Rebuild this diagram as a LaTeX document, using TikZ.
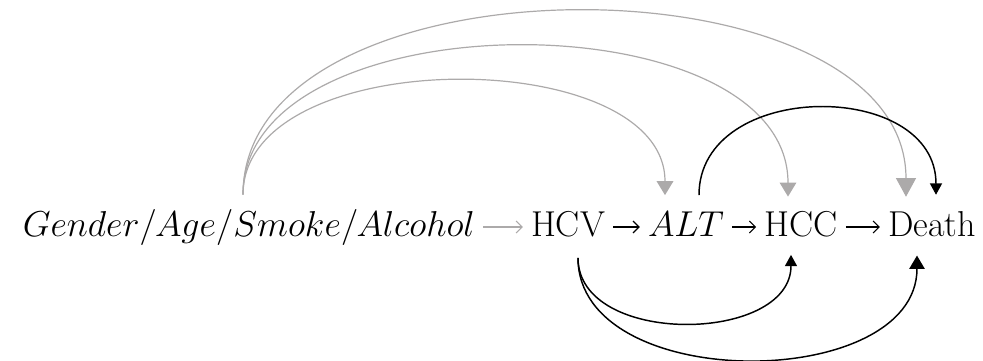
\documentclass[tikz,border=0pt]{standalone}
\usepackage{fix-cm}
\usepackage{amsmath}
\usepackage{tikz}
\usetikzlibrary{arrows.meta,calc,positioning}
\definecolor{arcgray}{RGB}{172,170,170}

\begin{document}
\begin{tikzpicture}[x=0.75pt,y=0.75pt,>=Latex,
  var/.style={inner sep=0pt,anchor=base,font=\fontsize{27}{32}\selectfont},
  link/.style={line width=0.8pt,shorten <=6pt,shorten >=6pt,-{Straight Barb[length=4.5pt,width=9pt]}},
  conf/.style={draw=arcgray,line width=0.9pt,-{Triangle[width=12.5pt,length=10.5pt,color=arcgray]}},
  conf big/.style={conf,-{Triangle[width=15pt,length=14pt,color=arcgray]}},
  causal/.style={line width=1.1pt,-{Triangle[width=9pt,length=8.5pt]}},
  causal big/.style={causal,-{Triangle[width=11.5pt,length=10pt]}}]
  \useasboundingbox (0,0) rectangle (983,361);
  \node[var] (src) at (249,124) {$Gender/Age/Smoke/Alcohol$};
  \node[var] (hcv) at (568,124) {HCV};
  \node[var] (alt) at (686,124) {$ALT$};
  \node[var] (hcc) at (801,124) {HCC};
  \node[var] (death) at (932,124) {Death};
  % main chain
  \draw[link,color=arcgray] ($(src.base east)+(0,10)$) -- ($(hcv.base west)+(0,10)$);
  \draw[link] ($(hcv.base east)+(0,10)$) -- ($(alt.base west)+(0,10)$);
  \draw[link] ($(alt.base east)+(0,10)$) -- ($(hcc.base west)+(0,10)$);
  \draw[link] ($(hcc.base east)+(0,10)$) -- ($(death.base west)+(0,10)$);
  % confounders over the top
  \coordinate (fork) at ($(src.north)+(-6,15)$);
  \draw[conf] (fork) .. controls +(0,152) and +(0,152) .. ($(alt.north)+(-21,17)$);
  \draw[conf] (fork) .. controls +(0,198) and +(0,200) .. ($(hcc.north)+(-13,15)$);
  \draw[conf big] (fork) .. controls +(0,245) and +(0,245) .. ($(death.north)+(-26,15)$);
  \draw[causal] ($(alt.north)+(13,17)$) .. controls +(0,116) and +(0,116) .. ($(death.north)+(4,17)$);
  % direct paths underneath
  \draw[causal] ($(hcv.south)+(10,-20)$) .. controls +(0,-89) and +(0,-89) .. ($(hcc.south)+(-10,-17)$);
  \draw[causal big] ($(hcv.south)+(10,-20)$) .. controls +(0,-137) and +(0,-137) .. ($(death.south)+(-15,-18)$);
\end{tikzpicture}
\end{document}
